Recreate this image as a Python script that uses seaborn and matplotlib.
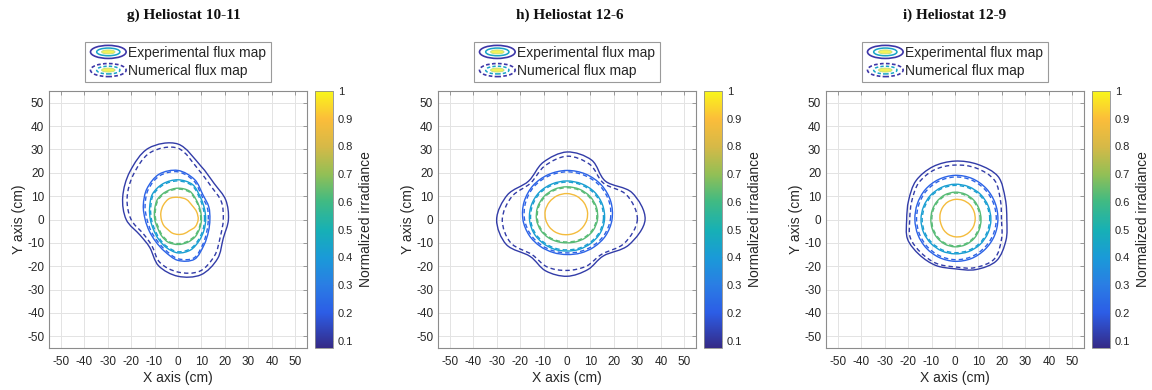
import numpy as np
import seaborn as sns
import matplotlib
matplotlib.use("Agg")
import matplotlib.pyplot as plt
from matplotlib.path import Path
from matplotlib.patches import PathPatch, Ellipse
from matplotlib.colors import LinearSegmentedColormap, Normalize
from matplotlib.cm import ScalarMappable
from matplotlib.legend_handler import HandlerBase
from matplotlib.lines import Line2D

angles = [0, 22.5, 45, 67.5, 90, 112.5, 135, 157.5, 180, 202.5, 225, 247.5, 270, 292.5, 315, 337.5]

# normalized irradiance of each iso-line (outer -> inner)
levels = [0.12, 0.22, 0.42, 0.63, 0.88]

titles = ["g) Heliostat 10-11", "h) Heliostat 12-6", "i) Heliostat 12-9"]

# radius (cm) of each experimental iso-line, one list per level
g_exp = [
    [21.5, 22.0, 21.8, 25.0, 32.3, 33.0, 29.0, 25.5, 22.1, 17.5, 17.0, 21.5, 24.3, 25.6, 23.8, 20.9],
    [13.6, 14.2, 15.0, 18.5, 21.0, 21.0, 18.7, 16.0, 14.0, 13.2, 13.4, 14.8, 17.5, 18.4, 15.6, 14.0],
    [11.8, 12.2, 13.5, 16.2, 17.0, 16.6, 15.4, 13.1, 11.8, 11.3, 11.8, 13.0, 14.3, 14.1, 12.8, 12.0],
    [10.0, 10.3, 11.3, 13.1, 13.4, 13.0, 12.3, 10.8, 9.9, 9.4, 9.9, 10.6, 10.7, 10.6, 10.4, 10.0],
    [8.6, 8.6, 8.5, 9.3, 9.5, 9.7, 8.8, 7.9, 7.1, 6.6, 6.1, 6.3, 6.4, 6.6, 6.8, 8.0],
]
g_num = [
    [19.3, 20.0, 20.0, 23.0, 30.5, 31.0, 27.0, 23.5, 20.0, 16.0, 15.8, 20.0, 22.5, 24.0, 22.0, 19.5],
    [12.9, 13.5, 14.3, 17.8, 20.4, 20.3, 18.0, 15.2, 13.2, 12.5, 12.7, 14.1, 16.8, 17.8, 15.0, 13.3],
    [11.3, 11.7, 13.0, 15.7, 16.5, 16.1, 14.9, 12.6, 11.3, 10.8, 11.3, 12.5, 13.8, 13.6, 12.3, 11.5],
    [9.7, 10.0, 11.0, 12.7, 13.0, 12.6, 11.9, 10.4, 9.5, 9.0, 9.5, 10.2, 10.3, 10.2, 10.0, 9.7],
]

h_exp = [
    [33.3, 30.0, 23.2, 27.5, 28.9, 26.5, 23.2, 27.5, 30.0, 28.0, 22.3, 23.8, 24.3, 23.2, 22.0, 28.5],
    [19.2, 20.2, 20.8, 21.0, 21.0, 20.8, 20.5, 19.8, 18.8, 17.5, 16.2, 15.3, 15.0, 15.5, 16.5, 17.9],
    [16.0, 16.4, 16.6, 16.5, 16.5, 16.5, 16.6, 16.4, 16.0, 15.3, 14.4, 13.8, 13.5, 13.8, 14.4, 15.3],
    [13.0, 13.6, 13.9, 14.0, 14.0, 14.0, 13.9, 13.6, 13.0, 12.1, 11.1, 10.3, 10.0, 10.3, 11.1, 12.1],
    [8.5, 9.4, 10.2, 10.8, 11.1, 11.0, 10.6, 10.0, 9.1, 8.2, 7.4, 6.8, 6.5, 6.6, 7.0, 7.6],
]
h_num = [
    [30.0, 27.5, 22.0, 25.5, 27.1, 24.8, 22.0, 25.5, 27.6, 26.0, 21.2, 22.0, 21.8, 21.6, 21.0, 26.5],
    [18.5, 19.5, 20.1, 20.3, 20.4, 20.2, 19.9, 19.1, 18.1, 16.8, 15.5, 14.6, 14.3, 14.8, 15.8, 17.2],
    [15.5, 15.9, 16.1, 16.0, 16.0, 16.0, 16.1, 15.9, 15.5, 14.8, 13.9, 13.3, 13.0, 13.3, 13.9, 14.8],
    [12.6, 13.2, 13.5, 13.6, 13.6, 13.6, 13.5, 13.2, 12.6, 11.7, 10.7, 9.9, 9.6, 9.9, 10.7, 11.7],
]

i_exp = [
    [22.1, 23.2, 26.0, 25.5, 25.0, 24.5, 23.5, 21.4, 20.6, 21.9, 21.4, 21.3, 21.1, 23.2, 25.0, 23.5],
    [18.3, 18.5, 18.8, 19.0, 18.9, 18.5, 18.0, 17.4, 17.1, 17.1, 17.3, 17.6, 17.9, 18.1, 18.1, 18.2],
    [15.3, 15.3, 15.3, 15.2, 15.1, 14.9, 14.7, 14.5, 14.5, 14.5, 14.5, 14.6, 14.7, 14.9, 15.1, 15.2],
    [11.1, 11.2, 11.5, 11.7, 11.7, 11.4, 10.9, 10.5, 10.3, 10.5, 10.9, 11.4, 11.7, 11.7, 11.5, 11.2],
    [8.6, 8.8, 9.0, 8.9, 8.6, 8.1, 7.4, 6.8, 6.4, 6.3, 6.6, 7.0, 7.4, 7.8, 8.1, 8.4],
]
i_num = [
    [19.8, 21.0, 23.8, 23.8, 23.3, 23.0, 22.0, 20.0, 19.3, 20.6, 20.3, 20.4, 20.3, 22.3, 23.8, 21.5],
    [17.6, 17.8, 18.1, 18.3, 18.2, 17.8, 17.3, 16.7, 16.4, 16.4, 16.6, 16.9, 17.2, 17.4, 17.4, 17.5],
    [14.8, 14.8, 14.8, 14.7, 14.6, 14.4, 14.2, 14.0, 14.0, 14.0, 14.0, 14.1, 14.2, 14.4, 14.6, 14.7],
    [10.7, 10.8, 11.1, 11.3, 11.3, 11.0, 10.5, 10.1, 9.9, 10.1, 10.5, 11.0, 11.3, 11.3, 11.1, 10.8],
]

cbar_ticks = [0.1, 0.2, 0.3, 0.4, 0.5, 0.6, 0.7, 0.8, 0.9, 1.0]
cbar_labels = ["0.1", "0.2", "0.3", "0.4", "0.5", "0.6", "0.7", "0.8", "0.9", "1"]

# ---- style ----
sns.set_style("whitegrid")
plt.rcParams["font.family"] = ["Liberation Sans", "DejaVu Sans"]
plt.rcParams["text.color"] = "#262626"
plt.rcParams["axes.unicode_minus"] = False

# parula-like colormap
vmin, vmax = 0.073, 1.0
parula_pts = [(0.073, "#352a87"), (0.2, "#2c5de6"), (0.3, "#2a7de4"), (0.4, "#1a9ad8"),
              (0.5, "#17b0b5"), (0.6, "#40ba83"), (0.7, "#93bf55"), (0.8, "#d6b947"),
              (0.9, "#fbbd3a"), (1.0, "#f9f61a")]
cmap = LinearSegmentedColormap.from_list(
    "parula", [((v - vmin) / (vmax - vmin), c) for v, c in parula_pts])
norm = Normalize(vmin, vmax)


def closed_curve(radii):
    th = np.deg2rad(angles)
    pts = np.column_stack([np.array(radii) * np.cos(th), np.array(radii) * np.sin(th)])
    n = len(pts)
    verts = [pts[0]]
    codes = [Path.MOVETO]
    for k in range(n):
        p0, p1, p2, p3 = pts[k - 1], pts[k], pts[(k + 1) % n], pts[(k + 2) % n]
        verts += [p1 + (p2 - p0) / 6, p2 - (p3 - p1) / 6, p2]
        codes += [Path.CURVE4] * 3
    return Path(verts, codes)


class FluxHandler(HandlerBase):
    def create_artists(self, legend, orig_handle, xdescent, ydescent, width, height, fontsize, trans):
        ls = orig_handle.get_linestyle()
        dash = "-" if ls in ("-", "solid") else (0, (2.2, 1.4))
        cx, cy = width / 2 - xdescent, height / 2 - ydescent
        out = []
        out.append(Ellipse((cx, cy), width * 0.95, height * 1.05, fill=False,
                           edgecolor="#3d36a8", lw=1.2, ls=dash, transform=trans))
        out.append(Ellipse((cx, cy), width * 0.62, height * 0.62, fill=False,
                           edgecolor=cmap(norm(0.45)), lw=1.1, ls=dash, transform=trans))
        out.append(Ellipse((cx, cy), width * 0.36, height * 0.32, facecolor="#f4f25a",
                           edgecolor="#bfe07a", lw=0.6, transform=trans))
        return out


fig = plt.figure(figsize=(11.52, 3.9), dpi=100)
W, H = 1152, 390
ax_left = [49, 438, 826]
title_x = [184, 570, 955]

for k, (title, exp_r, num_r) in enumerate(zip(titles, [g_exp, h_exp, i_exp], [g_num, h_num, i_num])):
    ax = fig.add_axes([ax_left[k] / W, 42 / H, 258 / W, 257 / H])
    for lev, r in zip(levels, exp_r):
        ax.add_patch(PathPatch(closed_curve(r), fill=False, edgecolor=cmap(norm(lev)), lw=1.0))
    for lev, r in zip(levels, num_r):
        ax.add_patch(PathPatch(closed_curve(r), fill=False, edgecolor=cmap(norm(lev)), lw=1.0,
                               linestyle=(0, (3.2, 2.2))))

    ax.set_xlim(-55, 55)
    ax.set_ylim(-55, 55)
    ax.set_xticks(range(-50, 51, 10))
    ax.set_yticks(range(-50, 51, 10))
    ax.grid(True, color="#e3e3e3", lw=0.7)
    ax.set_axisbelow(True)
    for s in ax.spines.values():
        s.set_color("#8c8c8c")
        s.set_linewidth(0.8)
    ax.tick_params(direction="in", top=True, right=True, length=3, width=0.6,
                   color="#8c8c8c", labelcolor="#262626", labelsize=8.5)
    ax.tick_params(axis="x", pad=6)
    ax.set_xlabel("X axis (cm)", fontsize=10, labelpad=2, color="#262626")
    ax.set_ylabel("Y axis (cm)", fontsize=10, labelpad=1, color="#262626")

    leg = ax.legend(handles=[Line2D([], [], ls="-"), Line2D([], [], ls="--")],
                    labels=["Experimental flux map", "Numerical flux map"],
                    handler_map={Line2D: FluxHandler()}, loc="lower center",
                    bbox_to_anchor=(0.5, 1.035), fontsize=10, frameon=True, fancybox=False,
                    edgecolor="#9a9a9a", framealpha=1, handlelength=2.7, handleheight=1.0,
                    handletextpad=0.1, borderpad=0.3, labelspacing=0.3, borderaxespad=0)
    leg.get_frame().set_linewidth(0.8)

    cax = fig.add_axes([(ax_left[k] + 266) / W, 42 / H, 18 / W, 257 / H])
    cb = fig.colorbar(ScalarMappable(norm=norm, cmap=cmap), cax=cax)
    cb.set_ticks(cbar_ticks)
    cb.set_ticklabels(cbar_labels)
    cb.outline.set_edgecolor("#8c8c8c")
    cb.outline.set_linewidth(0.6)
    cax.tick_params(direction="in", length=2, width=0.5, color="#8c8c8c",
                    labelsize=8, labelcolor="#262626")
    cb.set_label("Normalized irradiance", fontsize=10, color="#262626", labelpad=4)

    fig.text(title_x[k] / W, 1 - 15 / H, title, ha="center", va="center",
             fontsize=11, fontweight="bold", family="Liberation Serif", color="#111111")

fig.savefig("out.png", dpi=100)
